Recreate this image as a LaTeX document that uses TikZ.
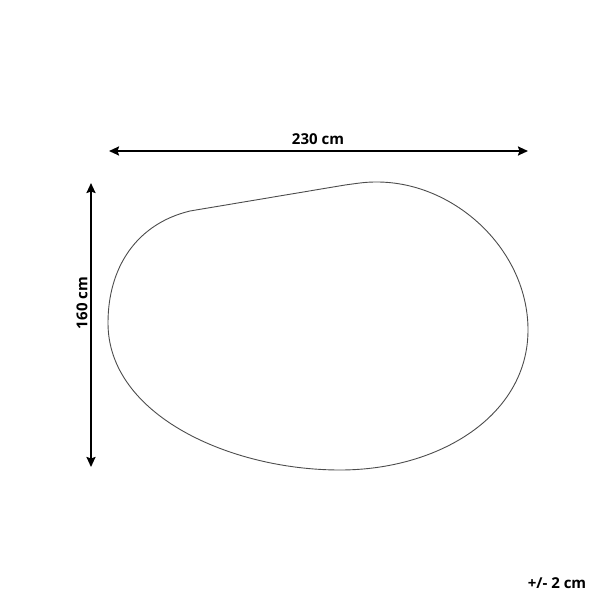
\documentclass[tikz,border=0pt]{standalone}
\usepackage{fontspec}
\setmainfont{Open Sans}
\usetikzlibrary{arrows.meta}
\tikzset{
	dimline/.style={line width=2pt, {Stealth[length=10pt,width=9pt,inset=1.5pt]}-{Stealth[length=10pt,width=9pt,inset=1.5pt]}},
	dimtext/.style={font=\fontsize{15}{18}\selectfont\bfseries, inner sep=0pt},
	outline/.style={line width=0.9pt, draw=black!70}
}
\begin{document}
\begin{tikzpicture}[x=1pt,y=-1pt]
\useasboundingbox (0,0) rectangle (600,600);
\coordinate (wl) at (109,151);
\coordinate (wr) at (528,151);
\coordinate (ht) at (91,183);
\coordinate (hb) at (91,467);
\draw[dimline] (wl) -- (wr);
\draw[dimline] (ht) -- (hb);
\node[dimtext, anchor=base] (width) at (318,144) {230 cm};
\node[dimtext, rotate=90] (height) at (82,303) {160 cm};
\node[dimtext] (tol) at (557,583) {+/- 2 cm};
%outline of the table top
\draw[outline] (108,323) .. controls (108,268) and (136,224) .. (190,211)
	-- (345,185) .. controls (360,183) and (365,182) .. (377,182)
	.. controls (455,182) and (528,250) .. (528,330)
	.. controls (528,415) and (440,470) .. (340,470)
	.. controls (230,470) and (108,415) .. cycle;
\end{tikzpicture}
\end{document}
